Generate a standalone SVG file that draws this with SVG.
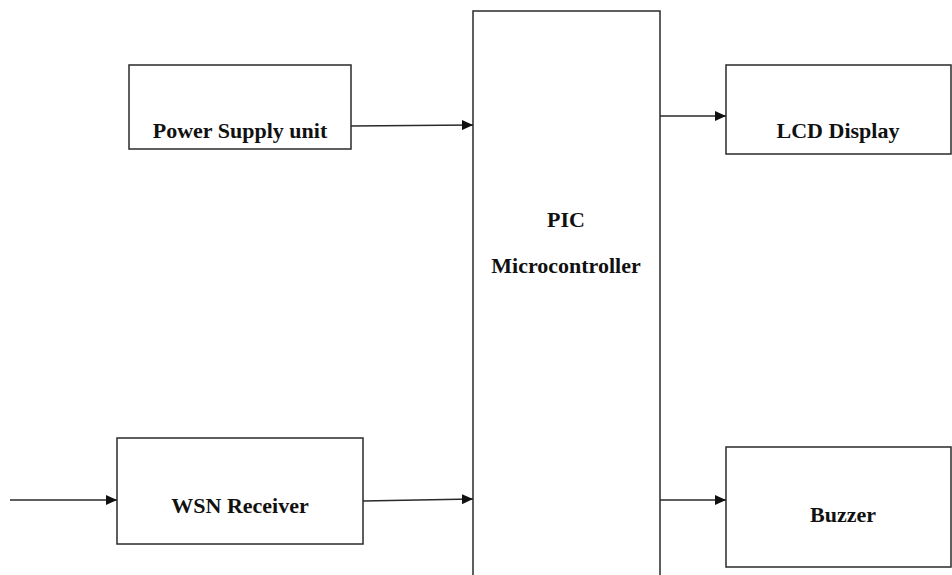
<svg xmlns="http://www.w3.org/2000/svg" width="952" height="575" viewBox="0 0 952 575">
<style>
.box{fill:#fff;stroke:#2a2a2a;stroke-width:1.5}
.lbl{font-family:"Liberation Serif","Times New Roman",serif;font-size:22px;font-weight:bold;fill:#111;text-anchor:middle}
.conn{stroke:#2a2a2a;stroke-width:1.5;fill:none}
</style>
<defs>
<marker id="ah" markerWidth="12" markerHeight="10" refX="11" refY="5" orient="auto" markerUnits="userSpaceOnUse">
<path d="M0,0 L11,5 L0,10 Z" fill="#111"/>
</marker>
</defs>
<rect width="952" height="575" fill="#fff"/>
<g id="power">
<rect class="box" x="129" y="65" width="222" height="84"/>
<text class="lbl" x="240" y="138">Power Supply unit</text>
</g>
<g id="wsn">
<rect class="box" x="117" y="438" width="246" height="106"/>
<text class="lbl" x="240" y="513">WSN Receiver</text>
</g>
<g id="pic">
<rect class="box" x="473" y="11" width="187" height="580"/>
<text class="lbl" x="566" y="227">PIC</text>
<text class="lbl" x="566" y="273">Microcontroller</text>
</g>
<g id="lcd">
<rect class="box" x="726" y="65" width="225" height="89"/>
<text class="lbl" x="838" y="138">LCD Display</text>
</g>
<g id="buzzer">
<rect class="box" x="726" y="447" width="225" height="120"/>
<text class="lbl" x="843" y="522">Buzzer</text>
</g>
<g id="connectors">
<line class="conn" x1="10" y1="500" x2="117" y2="500" marker-end="url(#ah)"/>
<line class="conn" x1="363" y1="501" x2="473" y2="499" marker-end="url(#ah)"/>
<line class="conn" x1="351" y1="126" x2="473" y2="125" marker-end="url(#ah)"/>
<line class="conn" x1="660" y1="116" x2="726" y2="116" marker-end="url(#ah)"/>
<line class="conn" x1="660" y1="500" x2="726" y2="500" marker-end="url(#ah)"/>
</g>
</svg>
